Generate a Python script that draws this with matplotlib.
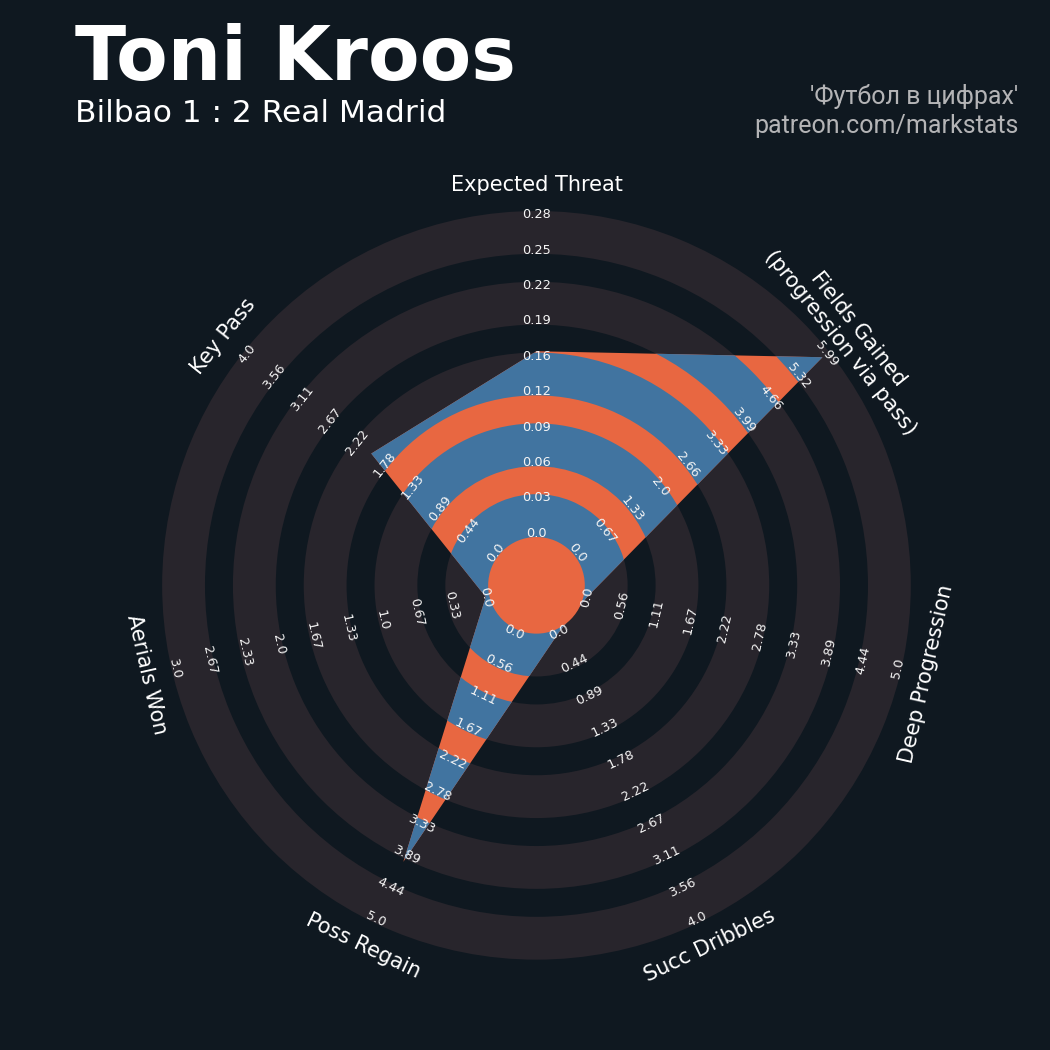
import numpy as np
import matplotlib.pyplot as plt
from matplotlib.patches import Wedge, Circle, Polygon

# radar data
params = ['Expected Threat', 'Fields Gained\n(progression via pass)', 'Deep Progression',
          'Succ Dribbles', 'Poss Regain', 'Aerials Won', 'Key Pass']
low = [0, 0, 0, 0, 0, 0, 0]
high = [0.28, 5.99, 5.0, 4.0, 5.0, 3.0, 4.0]
values = [0.16, 5.9, 0, 0, 4.0, 0, 2.0]

title = 'Toni Kroos'
subtitle = 'Bilbao 1 : 2 Real Madrid'
credit = "'Футбол в цифрах'\npatreon.com/markstats"

bg = '#0f1820'
ring_col = '#28252c'
blue = '#4174a0'
orange = '#e86741'

num_rings = 9       # number of ring steps (10 labels)
center_r = 1.47     # radius of the inner circle (ring width = 1)
pad = 0.105         # rings drawn a bit wider than one step
label_r = 11.3

n = len(params)
theta = 90 - np.arange(n) * 360 / n
rad = np.deg2rad(theta)


def text_rot(t):
    r = t - 90
    if np.sin(np.deg2rad(t)) < 0:
        r += 180
    return r


fig = plt.figure(figsize=(10.5, 10.5), dpi=100, facecolor=bg)
ax = fig.add_axes([0.10638, 0.0380, 0.8091, 0.8091])
ax.set_facecolor(bg)
ax.set_xlim(-12, 12)
ax.set_ylim(-12, 12)
ax.set_aspect('equal')
ax.axis('off')

# background rings
for k in range(0, num_rings, 2):
    ax.add_patch(Wedge((0, 0), center_r + k + 1 + pad, 0, 360, width=1 + 2 * pad,
                       facecolor=ring_col, edgecolor='none'))

# inner circle
ax.add_patch(Circle((0, 0), center_r - pad, facecolor=orange, edgecolor='none', zorder=2))

# radar polygon
v = np.array(values, dtype=float)
lo = np.array(low, dtype=float)
hi = np.array(high, dtype=float)
r = center_r + num_rings * (v - lo) / (hi - lo)
xy = np.column_stack([r * np.cos(rad), r * np.sin(rad)])
poly = Polygon(xy, closed=True, facecolor=orange, edgecolor='none', zorder=3)
ax.add_patch(poly)
for k in range(0, num_rings, 2):
    w = Wedge((0, 0), center_r + k + 1 + pad, 0, 360, width=1 + 2 * pad,
              facecolor=blue, edgecolor='none', zorder=4)
    ax.add_patch(w)
    w.set_clip_path(poly)

# range labels
for i in range(n):
    rot = text_rot(theta[i])
    for j in range(num_rings + 1):
        val = low[i] + j * (high[i] - low[i]) / num_rings
        rr = center_r + j
        ax.text(rr * np.cos(rad[i]), rr * np.sin(rad[i]), str(round(val, 2)),
                fontsize=9.3, color='#f5f5f5', ha='center', va='center',
                rotation=rot, rotation_mode='anchor', zorder=6)

# parameter labels
for i in range(n):
    ax.text(label_r * np.cos(rad[i]), label_r * np.sin(rad[i]), params[i],
            fontsize=15, color='white', ha='center', va='center',
            rotation=text_rot(theta[i]), rotation_mode='anchor', zorder=6,
            multialignment='center')

fig.text(0.071, 0.924, title, fontsize=54, fontweight='bold', color='white', va='baseline')
fig.text(0.071, 0.884, subtitle, fontsize=22.5, color='white', va='baseline')
fig.text(0.970, 0.873, credit, fontsize=18, color='#b4b4b6', ha='right', va='baseline',
         family=['Roboto', 'DejaVu Sans'], linespacing=1.3)

fig.savefig('out.png', dpi=100, facecolor=bg)
